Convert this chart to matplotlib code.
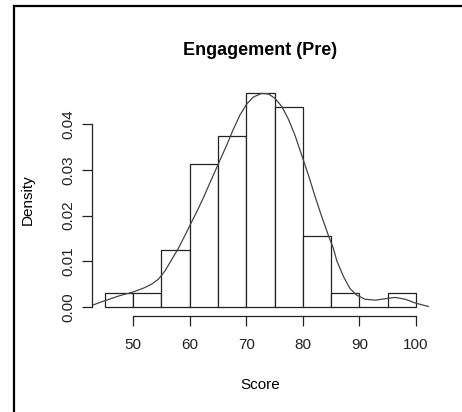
import numpy as np
import matplotlib.pyplot as plt
from matplotlib.lines import Line2D

plt.rcParams['font.family'] = ['Liberation Sans', 'DejaVu Sans']

# histogram of scores (counts per 5-point bin)
bin_edges = [45, 50, 55, 60, 65, 70, 75, 80, 85, 90, 95, 100]
counts = [1, 1, 4, 10, 12, 15, 14, 5, 1, 0, 1]

# density curve
curve_x = [42.4, 45.05, 47.7, 50.05, 51.8, 53.3, 54.5, 55.65, 56.8, 58.0, 59.2,
           60.07, 61.25, 62.4, 63.6, 65.07, 66.55, 67.7, 68.9, 70.1, 71.25, 72.7,
           73.9, 75.1, 76.3, 77.4, 78.6, 79.8, 81.0, 82.15, 83.3, 84.5, 85.4,
           86.0, 87.2, 88.3, 89.5, 91.0, 92.8, 94.5, 96.3, 98.1, 99.8, 101.9, 102.4]
curve_y = [0.0002, 0.0014, 0.0025, 0.0033, 0.0041, 0.0050, 0.0061, 0.0079, 0.0103,
           0.0128, 0.0157, 0.0179, 0.0208, 0.0238, 0.0272, 0.0313, 0.0354, 0.0388,
           0.0420, 0.0444, 0.0459, 0.0467, 0.0466, 0.0456, 0.0438, 0.0412, 0.0376,
           0.0332, 0.0288, 0.0242, 0.0199, 0.0157, 0.0128, 0.0101, 0.0066, 0.0041,
           0.0026, 0.0017, 0.0015, 0.0018, 0.0021, 0.0017, 0.0009, 0.0002, 0.0001]

x_ticks = [50, 60, 70, 80, 90, 100]
y_ticks = [0.00, 0.01, 0.02, 0.03, 0.04]

edges = np.array(bin_edges)
counts = np.array(counts)
width = np.diff(edges)
density = counts / (counts.sum() * width)

fig = plt.figure(figsize=(4.62, 4.12), dpi=100)
ax = fig.add_axes([0.1997, 0.234, 0.7278, 0.562])

ax.bar(edges[:-1], density, width=width, align='edge', facecolor='white',
       edgecolor='#222222', linewidth=0.9)
ax.plot(curve_x, curve_y, color='#444444', linewidth=0.9)

ax.set_xlim(42.8, 102.2)
ax.set_ylim(-0.001875, 0.048750)

for s in ['top', 'right']:
    ax.spines[s].set_visible(False)
ax.spines['left'].set_bounds(0, 0.04)
ax.spines['bottom'].set_bounds(50, 100)
ax.spines['left'].set_color('#222222')
ax.spines['bottom'].set_color('#222222')
ax.spines['left'].set_linewidth(0.9)
ax.spines['bottom'].set_linewidth(0.9)

ax.set_xticks(x_ticks)
ax.set_xticklabels([str(v) for v in x_ticks])
ax.set_yticks(y_ticks)
ax.set_yticklabels([f"{v:.2f}" for v in y_ticks], rotation=90, va='center')
ax.tick_params(axis='x', length=7, width=0.9, pad=9, labelsize=11, colors='#222222')
ax.tick_params(axis='y', length=7, width=0.9, pad=5.5, labelsize=11, colors='#222222')

ax.set_xlabel("Score", fontsize=11, labelpad=19)
ax.set_ylabel("Density", fontsize=11, labelpad=19)
ax.set_title("Engagement (Pre)", fontsize=13, fontweight='bold', pad=21)

# outer frame (left and top edges)
fig.add_artist(Line2D([14 / 462, 14 / 462], [0, 1 - 6 / 412], color='black',
                      linewidth=1.6, transform=fig.transFigure))
fig.add_artist(Line2D([14 / 462, 1], [1 - 6 / 412, 1 - 6 / 412], color='black',
                      linewidth=1.6, transform=fig.transFigure))

fig.savefig("out.png", dpi=100)
